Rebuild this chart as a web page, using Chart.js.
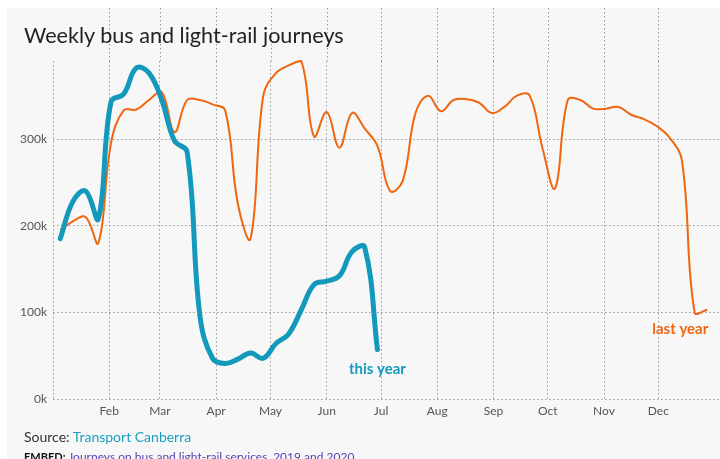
<!DOCTYPE html>
<html>
<head>
    <title>Weekly bus and light-rail journeys</title>
    <script src="https://cdn.jsdelivr.net/npm/chart.js"></script>
    <style>
        html, body {
            margin: 0;
            padding: 0;
            background: #fff;
            width: 720px;
            height: 459px;
            overflow: hidden;
            font-family: Lato, "Noto Sans", sans-serif;
        }
        .panel {
            position: absolute;
            left: 7px;
            top: 8px;
            width: 713px;
            height: 451px;
            background: #f7f7f7;
        }
        .chart-box {
            position: absolute;
            left: 0;
            top: 0;
            width: 720px;
            height: 459px;
        }
        .title {
            position: absolute;
            left: 24px;
            top: 22px;
            font-size: 21.6px;
            color: #222;
            white-space: nowrap;
        }
        .source {
            position: absolute;
            left: 24px;
            top: 428px;
            font-size: 14px;
            color: #333;
            white-space: nowrap;
        }
        .source span { color: #1a9fc0; }
        .embed {
            position: absolute;
            left: 24px;
            top: 449px;
            font-size: 12px;
            color: #5b3fb0;
            white-space: nowrap;
        }
        .embed b { color: #111; font-size: 11px; }
    </style>
</head>
<body>
    <div class="panel"></div>
    <div class="chart-box"><canvas id="chart"></canvas></div>
    <div class="title">Weekly bus and light-rail journeys</div>
    <div class="source">Source: <span>Transport Canberra</span></div>
    <div class="embed"><b>EMBED:</b> Journeys on bus and light-rail services, 2019 and 2020</div>

    <script>
        // month ticks (day of year) and their labels
        const monthStarts = [0, 31, 59, 90, 120, 151, 181, 212, 243, 273, 304, 334];
        const monthLabels = ['', 'Feb', 'Mar', 'Apr', 'May', 'Jun', 'Jul', 'Aug', 'Sep', 'Oct', 'Nov', 'Dec'];
        const yTicks = [0, 100000, 200000, 300000];

        // weekly journeys, in thousands
        const thisYear = [185, 228, 240, 208, 343, 352, 382, 376, 345, 298, 285, 97, 47,
            41, 46, 53, 47, 64, 75, 103, 132, 136, 142, 170, 175, 57];
        const lastYear = [195, 205, 210, 180, 295, 333, 334, 345, 354, 308, 345, 345, 340,
            333, 225, 185, 350, 376, 385, 390, 303, 331, 290, 330, 312, 292,
            240, 252, 330, 350, 332, 345, 346, 342, 330, 337, 350, 350, 290,
            243, 345, 345, 335, 335, 337, 328, 323, 315, 302, 275, 100, 103];

        const teal = '#1399bb';
        const orange = '#f0660f';
        const gridColor = '#9a9a9a';

        const firstWeek = 4;   // day of year of first weekly figure
        const toPoints = arr => arr.map((v, i) => ({ x: firstWeek + 7 * i, y: v * 1000 }));

        // month grid lines run up behind the title
        const tallGrid = {
            id: 'tallGrid',
            beforeDatasetsDraw(chart) {
                const ctx = chart.ctx;
                const xs = chart.scales.x;
                ctx.save();
                ctx.strokeStyle = gridColor;
                ctx.lineWidth = 1;
                ctx.setLineDash([1.5, 2.5]);
                monthStarts.slice(1).forEach(d => {
                    const px = Math.round(xs.getPixelForValue(d)) + 0.5;
                    ctx.beginPath();
                    ctx.moveTo(px, 8);
                    ctx.lineTo(px, chart.chartArea.top);
                    ctx.stroke();
                });
                ctx.restore();
            }
        };

        // "this year" / "last year" labels next to the line ends
        const endLabels = {
            id: 'endLabels',
            afterDatasetsDraw(chart) {
                const ctx = chart.ctx;
                ctx.save();
                ctx.font = 'bold 15px Lato, sans-serif';
                ctx.textBaseline = 'middle';
                const a = chart.getDatasetMeta(0).data.at(-1);
                ctx.fillStyle = teal;
                ctx.textAlign = 'center';
                ctx.fillText('this year', a.x, a.y + 20);
                const b = chart.getDatasetMeta(1).data.at(-1);
                ctx.fillStyle = orange;
                ctx.textAlign = 'right';
                ctx.fillText('last year', b.x + 1, b.y + 19);
                ctx.restore();
            }
        };

        new Chart(document.getElementById('chart'), {
            type: 'line',
            data: {
                datasets: [
                    {
                        label: 'this year',
                        data: toPoints(thisYear),
                        borderColor: teal,
                        borderWidth: 5,
                        tension: 0.4,
                        pointRadius: 0,
                        borderCapStyle: 'round',
                        borderJoinStyle: 'round',
                        clip: 8,
                        order: 0
                    },
                    {
                        label: 'last year',
                        data: toPoints(lastYear),
                        borderColor: orange,
                        borderWidth: 2,
                        tension: 0.4,
                        pointRadius: 0,
                        clip: 8,
                        order: 1
                    }
                ]
            },
            options: {
                responsive: true,
                maintainAspectRatio: false,
                animation: false,
                layout: { padding: { top: 61, right: 0, bottom: 0, left: 0 } },
                plugins: {
                    legend: { display: false },
                    tooltip: { enabled: false }
                },
                scales: {
                    x: {
                        type: 'linear',
                        min: 0,
                        max: 368,
                        afterBuildTicks: s => { s.ticks = monthStarts.map(v => ({ value: v })); },
                        afterFit: s => { s.height = 60; },
                        ticks: {
                            autoSkip: false,
                            maxRotation: 0,
                            padding: 5,
                            color: '#555',
                            font: { family: 'Lato, sans-serif', size: 12 },
                            callback: (v) => monthLabels[monthStarts.indexOf(v)]
                        },
                        grid: { color: gridColor, drawTicks: false },
                        border: { display: false, dash: [1.5, 2.5] }
                    },
                    y: {
                        min: 0,
                        max: 390000,
                        afterBuildTicks: s => { s.ticks = yTicks.map(v => ({ value: v })); },
                        afterFit: s => { s.width = 53; },
                        ticks: {
                            padding: 6,
                            color: '#555',
                            font: { family: 'Lato, sans-serif', size: 12 },
                            callback: v => (v / 1000) + 'k'
                        },
                        grid: { color: gridColor, drawTicks: false },
                        border: { display: false, dash: [1.5, 2.5] }
                    }
                }
            },
            plugins: [tallGrid, endLabels]
        });
    </script>
</body>
</html>
